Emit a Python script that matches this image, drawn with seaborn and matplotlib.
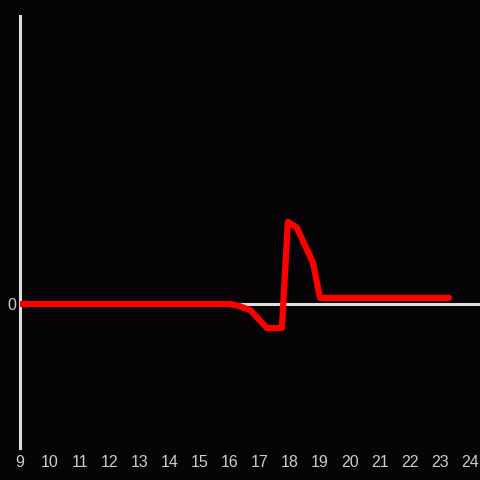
import matplotlib
matplotlib.use("Agg")
import matplotlib.pyplot as plt
import seaborn as sns
import pandas as pd

# 시간(x)과 값(y)
hours = [9.0, 16.0, 16.3, 16.67, 17.23, 17.73, 17.93, 18.23, 18.77, 19.0, 23.3]
values = [0.0, 0.0, -0.014, -0.042, -0.167, -0.167, 0.57, 0.53, 0.285, 0.042, 0.042]
xticks = list(range(9, 25))

df = pd.DataFrame({"hour": hours, "value": values})

bg = "#060406"
sns.set_style("dark", {"axes.facecolor": bg, "figure.facecolor": bg})
plt.rcParams["font.family"] = ["Liberation Sans", "DejaVu Sans"]

fig = plt.figure(figsize=(4.8, 4.8), dpi=100)
ax = fig.add_axes([20 / 480, 32 / 480, 460 / 480, 432 / 480])
ax.set_facecolor(bg)

ax.axhline(0, color="#dddddd", lw=2.2, zorder=1)
sns.lineplot(data=df, x="hour", y="value", ax=ax, color="#ff0000", lw=4.5,
             zorder=3, sort=False)

ax.set_xlim(9, 24 + 1 / 3)
ax.set_ylim(-1, 2)
ax.set_xticks(xticks)
ax.set_yticks([0])
ax.tick_params(axis="both", length=0, colors="#cccccc", labelsize=11.5)
ax.tick_params(axis="x", pad=5)
ax.tick_params(axis="y", pad=3)
ax.set_xlabel("")
ax.set_ylabel("")
ax.grid(False)

for s in ["top", "right", "bottom"]:
    ax.spines[s].set_visible(False)
ax.spines["left"].set_color("#dddddd")
ax.spines["left"].set_linewidth(2.2)

fig.savefig("out.png", dpi=100, facecolor=bg)
